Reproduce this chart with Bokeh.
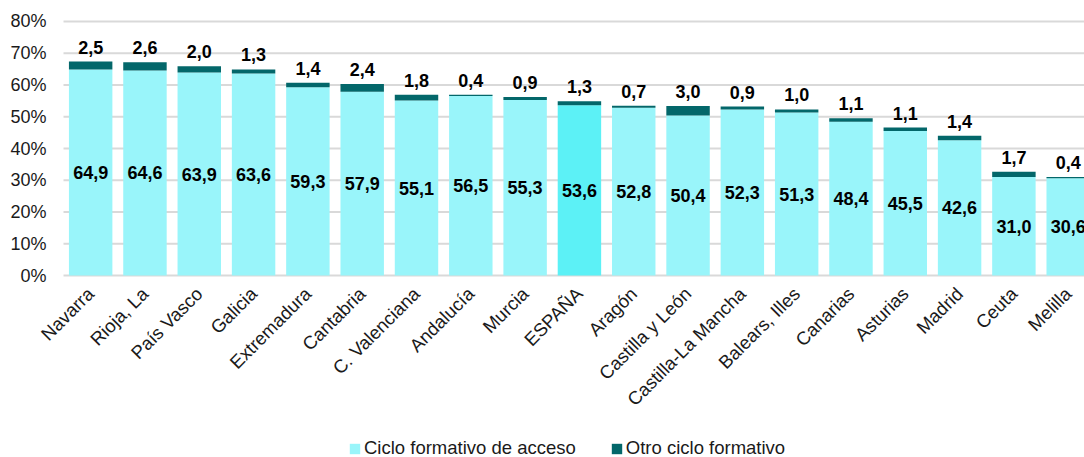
from bokeh.plotting import figure
from bokeh.models import ColumnDataSource, Range1d, Legend, LegendItem, FixedTicker, LabelSet
from bokeh.core.properties import value
from bokeh.embed import file_html
from bokeh.resources import INLINE
import math

regions = ["Navarra", "Rioja, La", "País Vasco", "Galicia", "Extremadura", "Cantabria",
           "C. Valenciana", "Andalucía", "Murcia", "ESPAÑA", "Aragón", "Castilla y León",
           "Castilla-La Mancha", "Balears, Illes", "Canarias", "Asturias", "Madrid", "Ceuta", "Melilla"]
acceso = [64.9, 64.6, 63.9, 63.6, 59.3, 57.9, 55.1, 56.5, 55.3, 53.6, 52.8, 50.4,
          52.3, 51.3, 48.4, 45.5, 42.6, 31.0, 30.6]
otro = [2.5, 2.6, 2.0, 1.3, 1.4, 2.4, 1.8, 0.4, 0.9, 1.3, 0.7, 3.0,
        0.9, 1.0, 1.1, 1.1, 1.4, 1.7, 0.4]
y_ticks = [0, 10, 20, 30, 40, 50, 60, 70, 80]
y_tick_labels = [f"{t}%" for t in y_ticks]

LIGHT = "#99F5FA"
SPAIN = "#5CF1F6"
DARK = "#03676A"
GRID = "#d9d9d9"
FONT = "Liberation Sans"
TXT = "#1a1a1a"

X_START = -0.5   # left edge of the plotting area (first category slot)
X_END = 18.3     # the chart is cut at the right edge of the window

xs = list(range(len(regions)))
colors = [SPAIN if r == "ESPAÑA" else LIGHT for r in regions]
total = [a + o for a, o in zip(acceso, otro)]
src = ColumnDataSource(dict(
    x=xs, acceso=acceso, otro=otro, total=total, color=colors,
    mid=[a / 2 for a in acceso],
    lab_a=[f"{a:.1f}".replace(".", ",") for a in acceso],
    lab_o=[f"{o:.1f}".replace(".", ",") for o in otro],
))

# frame covers the whole picture so tick labels and legend are not clipped
p = figure(frame_width=1079, frame_height=457, output_backend="svg", toolbar_location=None,
           x_range=Range1d(-1.568, X_END), y_range=Range1d(-57.32, 86.614),
           min_border_left=5, min_border_right=0, min_border_top=0, min_border_bottom=0)
p.outline_line_color = None
p.background_fill_color = "white"
p.border_fill_color = "white"

# horizontal gridlines over the value area only
p.segment(x0=[X_START] * len(y_ticks), x1=[X_END + 1] * len(y_ticks), y0=y_ticks, y1=y_ticks,
          line_color=GRID, line_width=2)

r1 = p.vbar(x="x", top="acceso", bottom=0, width=0.8, fill_color="color", line_color=None, source=src)
r2 = p.vbar(x="x", top="total", bottom="acceso", width=0.8, fill_color=DARK, line_color=None, source=src)

# value-axis tick labels
p.text(x=[X_START] * len(y_ticks), y=y_ticks, text=y_tick_labels, x_offset=-17,
       text_align="right", text_baseline="middle", text_font=value(FONT),
       text_font_size="18px", text_color=TXT)

p.add_layout(LabelSet(x="x", y="mid", text="lab_a", source=src, text_align="center",
                      text_baseline="middle", text_font=value(FONT), text_font_size="18px",
                      text_font_style="bold", text_color="black"))
p.add_layout(LabelSet(x="x", y="total", text="lab_o", source=src, text_align="center",
                      text_baseline="alphabetic", y_offset=8, text_font=value(FONT),
                      text_font_size="18px", text_font_style="bold", text_color="black"))

p.yaxis.visible = False

p.xaxis.fixed_location = 0
p.xaxis.ticker = FixedTicker(ticks=xs)
p.xaxis.major_label_overrides = {i: r for i, r in enumerate(regions)}
p.xaxis.major_label_orientation = math.pi / 4
p.xaxis.axis_line_color = None
p.xaxis.major_tick_line_color = None
p.xaxis.minor_tick_line_color = None
p.xaxis.major_label_standoff = 9
p.xaxis.major_label_text_font = FONT
p.xaxis.major_label_text_font_size = "18.5px"
p.xaxis.major_label_text_color = TXT

p.xgrid.grid_line_color = None
p.ygrid.grid_line_color = None

legend = Legend(items=[LegendItem(label="Ciclo formativo de acceso", renderers=[r1]),
                       LegendItem(label="Otro ciclo formativo", renderers=[r2])],
                orientation="horizontal", location=(343, -2), padding=0, margin=0,
                spacing=34, glyph_width=13, glyph_height=13, label_standoff=3,
                label_height=18,
                label_text_font=FONT, label_text_font_size="18.5px",
                label_text_color=TXT, border_line_color=None, background_fill_alpha=0)
p.add_layout(legend, "center")

open("out.html", "w").write(file_html(p, INLINE))
